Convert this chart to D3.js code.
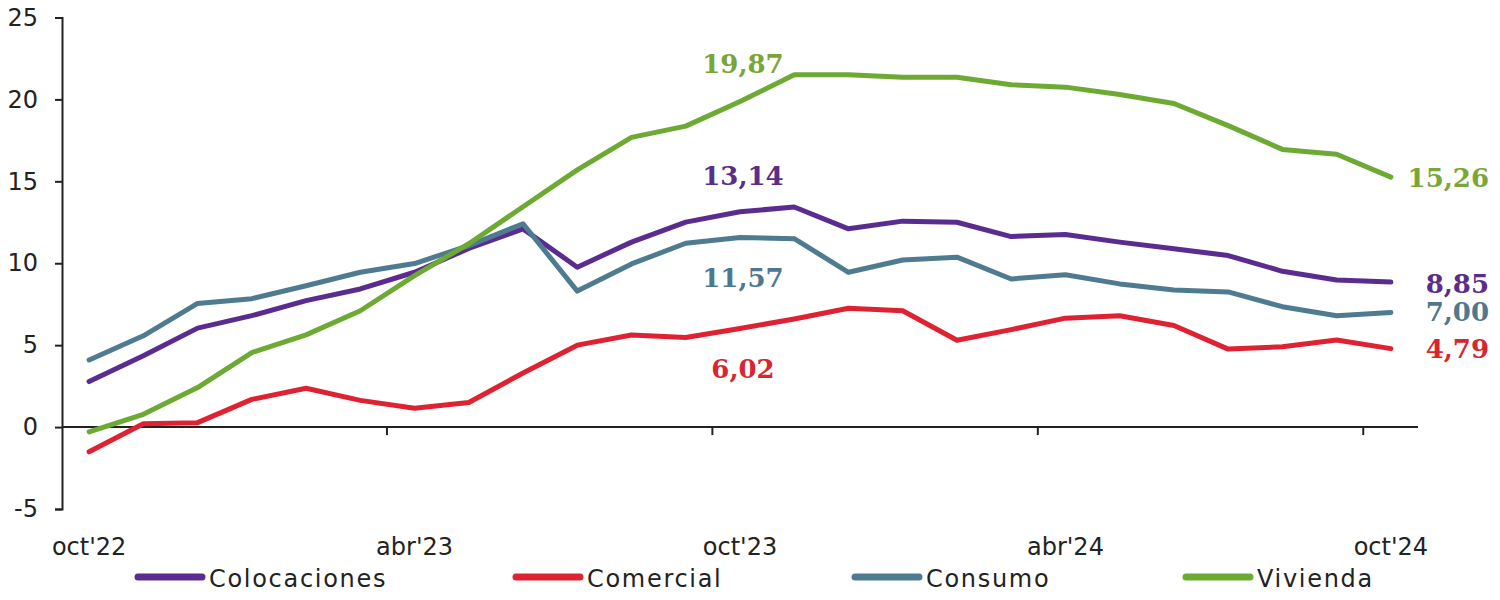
<!DOCTYPE html>
<html>
<head>
<meta charset="utf-8">
<script src="https://cdn.jsdelivr.net/npm/d3@7"></script>
<style>
  html, body { margin: 0; padding: 0; background: #fff; }
  svg { display: block; }
</style>
</head>
<body>
<svg id="chart" width="1500" height="600"></svg>
<script>
// ---- data ----
const months = ["oct'22","nov'22","dic'22","ene'23","feb'23","mar'23","abr'23","may'23","jun'23","jul'23","ago'23","sep'23",
                "oct'23","nov'23","dic'23","ene'24","feb'24","mar'24","abr'24","may'24","jun'24","jul'24","ago'24","sep'24","oct'24"];
const tickLabels = ["oct'22","abr'23","oct'23","abr'24","oct'24"];
const yTicks = [-5, 0, 5, 10, 15, 20, 25];
const seriesNames = ["Colocaciones","Comercial","Consumo","Vivienda"];
const colocaciones = [2.78,4.35,6.04,6.80,7.72,8.43,9.45,10.90,12.10,9.76,11.29,12.51,13.14,13.43,12.10,12.57,12.50,11.63,11.76,11.29,10.88,10.47,9.51,8.98,8.85];
const comercial    = [-1.51,0.20,0.27,1.69,2.37,1.63,1.15,1.50,3.30,5.00,5.62,5.47,6.02,6.60,7.25,7.10,5.30,5.95,6.65,6.80,6.20,4.76,4.90,5.31,4.79];
const consumo      = [4.10,5.57,7.55,7.84,8.63,9.45,9.98,11.08,12.41,8.30,9.96,11.22,11.57,11.50,9.45,10.20,10.37,9.04,9.30,8.74,8.37,8.25,7.35,6.80,7.00];
const vivienda     = [-0.29,0.78,2.41,4.55,5.63,7.10,9.25,11.19,13.45,15.70,17.68,18.37,19.87,21.50,21.50,21.35,21.35,20.90,20.75,20.30,19.75,18.40,16.95,16.65,15.26];
const colors = ["#5B2C8F","#DF2232","#4F7B91","#6DAA33"];
const labelColors = ["#5A2D8A","#DA2530","#4E7890","#79A636"];
// annotated values: middle (oct'23) and end (oct'24)
const midLabels = ["13,14","6,02","11,57","19,87"];
const endLabels = ["8,85","4,79","7,00","15,26"];

const allSeries = [colocaciones, comercial, consumo, vivienda];

// ---- layout ----
const svg = d3.select("#chart");
const x = d3.scaleBand().domain(months).range([62, 1418]).padding(0);
const y = d3.scaleLinear().domain([-5, 25]).range([509, 17.5]);
const cx = d => x(d) + x.bandwidth() / 2;

// y axis
const yAxis = svg.append("g").attr("transform", "translate(62,0)")
  .call(d3.axisLeft(y).tickValues(yTicks).tickSize(7).tickPadding(17).tickFormat(d => String(d)));
yAxis.select(".domain").attr("stroke", "#222").attr("stroke-width", 2);
yAxis.selectAll(".tick line").attr("stroke", "#222").attr("stroke-width", 2);
yAxis.selectAll("text").attr("font-family", "DejaVu Sans, Verdana, sans-serif")
  .attr("font-size", 24).attr("fill", "#222");

// x axis at y=0 with ticks at boundaries every 6 months
const xBase = svg.append("g").attr("transform", `translate(0,${y(0)})`);
xBase.append("line").attr("x1", 62).attr("x2", 1418).attr("stroke", "#222").attr("stroke-width", 2);
const boundaryIdx = [6, 12, 18, 24];
xBase.selectAll("line.tk").data(boundaryIdx).join("line").attr("class", "tk")
  .attr("x1", i => x(months[i]) - 0.5).attr("x2", i => x(months[i]) - 0.5)
  .attr("y1", 0).attr("y2", 8).attr("stroke", "#222").attr("stroke-width", 2);

// x tick labels (at bottom)
svg.append("g").selectAll("text").data(tickLabels).join("text")
  .attr("x", d => cx(d)).attr("y", 555)
  .attr("text-anchor", "middle")
  .attr("font-family", "DejaVu Sans, Verdana, sans-serif").attr("font-size", 24)
  .attr("fill", "#222").text(d => d);

// lines
const line = d3.line().x((d, i) => cx(months[i])).y(d => y(d));
svg.append("g").selectAll("path").data(allSeries).join("path")
  .attr("d", d => line(d)).attr("fill", "none")
  .attr("stroke", (d, i) => colors[i]).attr("stroke-width", 5)
  .attr("stroke-linejoin", "round").attr("stroke-linecap", "round");

// mid labels (oct'23)
const midY = [185, 378, 287, 73];
svg.append("g").selectAll("text").data(midLabels).join("text")
  .attr("x", cx("oct'23") + 3).attr("y", (d, i) => midY[i])
  .attr("text-anchor", "middle")
  .attr("font-family", "DejaVu Serif, serif").attr("font-weight", "bold").attr("font-size", 26)
  .attr("fill", (d, i) => labelColors[i]).text(d => d);

// end labels (oct'24)
const endY = [293, 358, 321, 187];
svg.append("g").selectAll("text").data(endLabels).join("text")
  .attr("x", 1489).attr("y", (d, i) => endY[i])
  .attr("text-anchor", "end")
  .attr("font-family", "DejaVu Serif, serif").attr("font-weight", "bold").attr("font-size", 26)
  .attr("fill", (d, i) => labelColors[i]).text(d => d);

// legend
const legendX = [138, 516, 855, 1186];
const lg = svg.append("g").selectAll("g").data(seriesNames).join("g")
  .attr("transform", (d, i) => `translate(${legendX[i]},577)`);
lg.append("line").attr("x1", 0).attr("x2", 64).attr("y1", 0).attr("y2", 0)
  .attr("stroke", (d, i) => colors[i]).attr("stroke-width", 7).attr("stroke-linecap", "round");
lg.append("text").attr("x", 71).attr("y", 10)
  .attr("font-family", "DejaVu Sans, Verdana, sans-serif").attr("font-size", 24)
  .attr("letter-spacing", 1.7).attr("fill", "#222").text(d => d);
</script>
</body>
</html>
